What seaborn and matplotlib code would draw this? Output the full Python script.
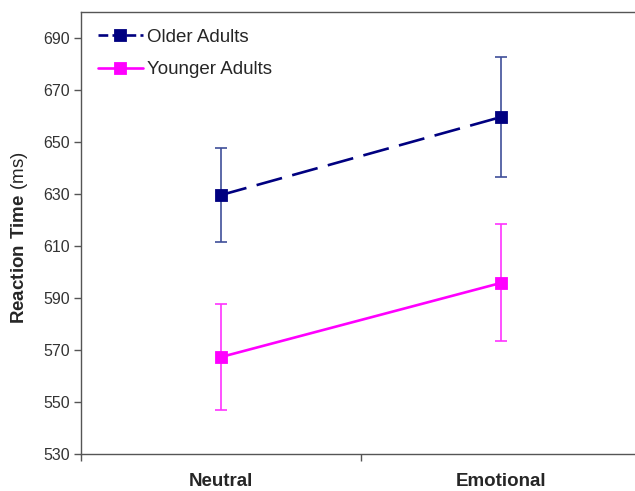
import matplotlib
matplotlib.use("Agg")

import matplotlib.pyplot as plt
import seaborn as sns
import pandas as pd

sns.set_theme(style="white")
plt.rcParams["font.family"] = ["Liberation Sans", "DejaVu Sans"]
plt.rcParams["mathtext.fontset"] = "custom"
plt.rcParams["mathtext.rm"] = "Liberation Sans"
plt.rcParams["mathtext.bf"] = "Liberation Sans:bold"

conditions = ["Neutral", "Emotional"]
older_rt = [629.6, 659.6]
older_err = [18.2, 23.2]
younger_rt = [567.3, 595.8]
younger_err = [20.5, 22.5]

df = pd.DataFrame({
    "Condition": conditions * 2,
    "RT": older_rt + younger_rt,
    "Group": ["Older Adults"] * 2 + ["Younger Adults"] * 2,
})

fig = plt.figure(figsize=(6.35, 4.91), dpi=100)
ax = fig.add_axes([81 / 635, 1 - 454 / 491, 560 / 635, 442 / 491])

navy = "#000080"
magenta = "#FF00FF"

sns.pointplot(data=df, x="Condition", y="RT", hue="Group", order=conditions,
              palette=[navy, magenta], markers="s", linestyles=["--", "-"],
              errorbar=None, ax=ax)

for line in ax.lines:
    line.set_linewidth(1.9)
    line.set_markersize(7.5)
    line.set_zorder(3)
ax.lines[0].set_dashes([10, 4])

# error bars drawn after restyling so they keep their own look
ax.errorbar([0, 1], older_rt, yerr=older_err, fmt="none", ecolor="#3f4f9a",
            elinewidth=1.2, capsize=4, capthick=1.2, zorder=2)
ax.errorbar([0, 1], younger_rt, yerr=younger_err, fmt="none", ecolor="#ff33ff",
            elinewidth=1.2, capsize=4, capthick=1.2, zorder=2)

ax.set_xlim(-0.5, 1.5)
ax.set_ylim(530, 700)
ax.set_yticks(range(530, 700, 20))
ax.set_xticks([0, 1], conditions)
ax.set_xticks([-0.5, 0.5, 1.5], minor=True)
ax.tick_params(axis="x", which="major", length=0, pad=14, labelsize=13.5)
ax.tick_params(axis="x", which="minor", length=5, width=1, color="#555555",
               direction="out", bottom=True)
ax.tick_params(axis="y", length=5, width=1, color="#555555", direction="out",
               left=True, labelsize=11.5, labelcolor="#333333", pad=3)
for lbl in ax.get_xticklabels():
    lbl.set_fontweight("bold")

ax.set_xlabel("")
ax.set_ylabel("")
for side in ["left", "top", "bottom"]:
    ax.spines[side].set_color("#555555")
    ax.spines[side].set_linewidth(1)
ax.spines["right"].set_visible(False)

fig.text(20 / 635, 1 - 238 / 491, r"$\mathbf{Reaction\ Time}$ (ms)",
         rotation=90, ha="center", va="center", fontsize=13.5)

handles, labels = ax.get_legend_handles_labels()
ax.legend(handles, labels, loc="upper left", bbox_to_anchor=(0.0, 1.0),
          frameon=False, fontsize=13.5, handlelength=2.4, handletextpad=0.2,
          labelspacing=0.8)

fig.savefig("out.png", dpi=100)
